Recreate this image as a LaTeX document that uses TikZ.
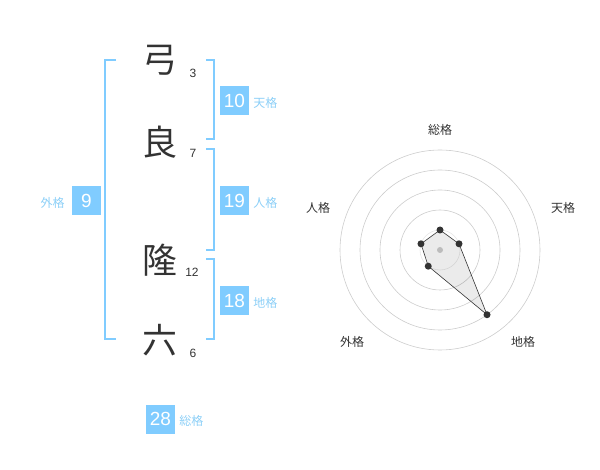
\documentclass[tikz,border=0pt]{standalone}
\usepackage{fontspec}
\setmainfont{Liberation Sans}
\newfontfamily\jpfont{Noto Sans CJK JP}
\usetikzlibrary{positioning}
\definecolor{skyblue}{HTML}{80CCFF}
\definecolor{labelblue}{HTML}{8CCFF7}
\definecolor{inkgray}{HTML}{333333}
\definecolor{ringgray}{HTML}{CCCCCC}

\begin{document}
\begin{tikzpicture}[
  x=1pt, y=-1pt,
  kanji/.style={inner sep=0pt, text=inkgray, font=\jpfont\fontsize{35}{35}\selectfont},
  strokes/.style={inner sep=0pt, text=inkgray, font=\fontsize{12}{12}\selectfont},
  score/.style={fill=skyblue, text=white, minimum size=29pt, inner sep=0pt, font=\fontsize{19}{19}\selectfont},
  kaku/.style={inner sep=0pt, text=labelblue, font=\jpfont\fontsize{12}{12}\selectfont},
  brk/.style={draw=skyblue, line width=1.5pt},
  axislab/.style={inner sep=0pt, text=inkgray, font=\jpfont\fontsize{12}{12}\selectfont},
  ring/.style={draw=ringgray, line width=0.6pt},
  dot/.style={circle, fill=inkgray, inner sep=0pt, minimum size=7pt}
]
\useasboundingbox (0,0) rectangle (600,470);

% name characters and stroke counts
\node[kanji] (k1) at (160,60) {弓};
\node[kanji] (k2) at (160,142) {良};
\node[kanji] (k3) at (160,260) {隆};
\node[kanji] (k4) at (160,340) {六};
\node[strokes] (s1) at (193,73) {3};
\node[strokes] (s2) at (193,153) {7};
\node[strokes] (s3) at (192,272) {12};
\node[strokes] (s4) at (193,353) {6};

% brackets
\draw[brk] (116,60) -- (105,60) -- (105,339) -- (116,339);
\draw[brk] (206,60) -- (214,60) -- (214,139) -- (206,139);
\draw[brk] (206,149) -- (214,149) -- (214,250) -- (206,250);
\draw[brk] (206,259) -- (214,259) -- (214,339) -- (206,339);

% scores
\node[score] (gai) at (86.5,200.5) {9};
\node[kaku, left=7pt of gai, yshift=-2pt] {外格};
\node[score] (ten) at (234.5,100.5) {10};
\node[kaku, right=4pt of ten, yshift=-2pt] {天格};
\node[score] (jin) at (234.5,200.5) {19};
\node[kaku, right=4pt of jin, yshift=-2pt] {人格};
\node[score] (chi) at (234.5,300.5) {18};
\node[kaku, right=4pt of chi, yshift=-2pt] {地格};
\node[score] (sou) at (160.5,419) {28};
\node[kaku, right=4pt of sou, yshift=-2pt] {総格};

% radar chart
\coordinate (c) at (440,250);
\draw[ring, draw=ringgray!50] (c) circle[radius=20pt];
\foreach \r in {40,60,80,100}
  \draw[ring] (c) circle[radius=\r pt];
\fill[ringgray] (c) circle[radius=3pt];

\path (c) ++(-90:20) coordinate (rsou);
\path (c) ++(-18:20) coordinate (rten);
\path (c) ++(54:80) coordinate (rchi);
\path (c) ++(126:20) coordinate (rgai);
\path (c) ++(-162:20) coordinate (rjin);

\fill[black, fill opacity=0.08] (rsou) -- (rten) -- (rchi) -- (rgai) -- (rjin) -- cycle;
\draw[inkgray, line width=0.6pt] (rsou) -- (rten) -- (rchi) -- (rgai) -- (rjin) -- cycle;
\foreach \p in {rsou,rten,rchi,rgai,rjin}
  \node[dot] at (\p) {};

\node[axislab] (lsou) at (440,130) {総格};
\node[axislab] (lten) at (563,208) {天格};
\node[axislab] (lchi) at (523,342) {地格};
\node[axislab] (lgai) at (352,342) {外格};
\node[axislab] (ljin) at (318,208) {人格};
\end{tikzpicture}
\end{document}
